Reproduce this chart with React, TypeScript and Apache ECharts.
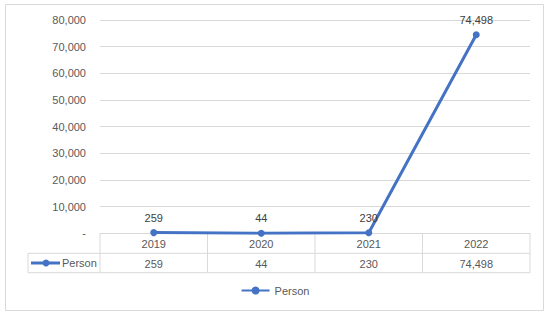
import React, { useEffect, useRef } from "react";
import * as echarts from "echarts";

const categories = ["2019", "2020", "2021", "2022"];
const seriesName = "Person";
const values = [259, 44, 230, 74498];
const yTicks = { min: 0, max: 80000, interval: 10000 };

const fmt = (v: number) => (v === 0 ? "-" : v.toLocaleString("en-US"));

const FONT = "Liberation Sans";
const COLOR = "#4472C4";
const GRID_C = "#d9d9d9";
const TXT = "#595959";

export default function App() {
  const ref = useRef<HTMLDivElement>(null);
  useEffect(() => {
    const chart = echarts.init(ref.current!, null, { renderer: "svg" });
    const W = 550;
    const left = 100;
    const right = 530;
    const top = 20;
    const axisY = 233.3;
    const row1 = 253.3;
    const row2 = 272.7;
    const keyLeft = 28;
    const n = categories.length;
    const cw = (right - left) / n;

    const graphics: any[] = [
      {
        type: "rect",
        shape: { x: 5.5, y: 4.5, width: 538, height: 306 },
        style: { fill: "none", stroke: GRID_C, lineWidth: 1 },
        silent: true,
      },
      { type: "line", shape: { x1: keyLeft, y1: row1, x2: right, y2: row1 }, style: { stroke: GRID_C, lineWidth: 1 } },
      { type: "line", shape: { x1: keyLeft, y1: row2, x2: right, y2: row2 }, style: { stroke: GRID_C, lineWidth: 1 } },
      { type: "line", shape: { x1: keyLeft, y1: row1, x2: keyLeft, y2: row2 }, style: { stroke: GRID_C, lineWidth: 1 } },
      // legend key inside table
      { type: "line", shape: { x1: 31, y1: (row1 + row2) / 2, x2: 60, y2: (row1 + row2) / 2 }, style: { stroke: COLOR, lineWidth: 3 } },
      { type: "circle", shape: { cx: 46, cy: (row1 + row2) / 2, r: 3.5 }, style: { fill: COLOR } },
      {
        type: "text",
        x: 62,
        y: (row1 + row2) / 2,
        style: { text: seriesName, fill: TXT, font: `11px '${FONT}'`, verticalAlign: "middle", align: "left" },
      },
    ];
    for (let i = 0; i <= n; i++) {
      const x = left + i * cw;
      graphics.push({
        type: "line",
        shape: { x1: x, y1: axisY, x2: x, y2: row2 },
        style: { stroke: GRID_C, lineWidth: 1 },
      });
    }

    chart.setOption({
      animation: false,
      textStyle: { fontFamily: FONT },
      grid: { left, right: W - right, top, height: axisY - top, containLabel: false },
      legend: {
        bottom: 16,
        left: "center",
        data: [seriesName],
        itemWidth: 28,
        itemHeight: 10,
        itemGap: 5,
        textStyle: { color: TXT, fontSize: 11, fontFamily: FONT },
      },
      xAxis: [
        {
          type: "category",
          data: categories,
          boundaryGap: true,
          axisLine: { show: true, lineStyle: { color: GRID_C } },
          axisTick: { show: false },
          axisLabel: { color: TXT, fontSize: 11, margin: 5, fontFamily: FONT },
        },
        {
          type: "category",
          data: values.map(fmt),
          position: "bottom",
          offset: row1 - axisY,
          boundaryGap: true,
          axisLine: { show: false },
          axisTick: { show: false },
          axisLabel: { color: TXT, fontSize: 11, margin: 5, fontFamily: FONT },
        },
      ],
      yAxis: {
        type: "value",
        min: yTicks.min,
        max: yTicks.max,
        interval: yTicks.interval,
        axisLine: { show: false },
        axisTick: { show: false },
        splitLine: { lineStyle: { color: GRID_C } },
        axisLabel: { color: TXT, fontSize: 11, margin: 14, fontFamily: FONT, formatter: (v: number) => fmt(v) },
      },
      series: [
        {
          name: seriesName,
          type: "line",
          data: values,
          symbol: "circle",
          symbolSize: 7,
          lineStyle: { color: COLOR, width: 3 },
          itemStyle: { color: COLOR },
          label: {
            show: true,
            position: "top",
            distance: 6,
            color: "#404040",
            fontSize: 11,
            fontFamily: FONT,
            formatter: (p: any) => fmt(p.value),
          },
        },
      ],
      graphic: graphics,
    });
    return () => chart.dispose();
  }, []);
  return <div ref={ref} style={{ width: 550, height: 317, position: "absolute", left: 0, top: 0 }} />;
}
